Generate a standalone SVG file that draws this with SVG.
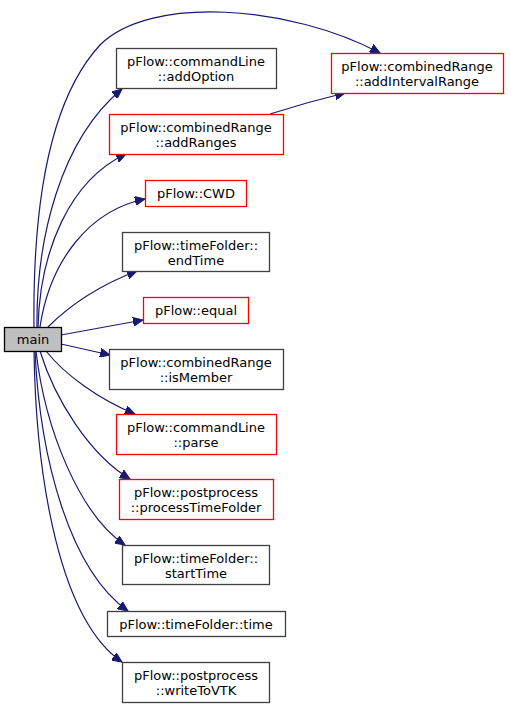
<svg xmlns="http://www.w3.org/2000/svg" width="511" height="708" viewBox="0 0 511 708">
<defs>
<style>
rect.b{fill:#fff;stroke:#404040;stroke-width:1.3}
rect.r{fill:#fff;stroke:#ff0000;stroke-width:1.3}
rect.m{fill:#bfbfbf;stroke:#000;stroke-width:1.3}
text{font-family:"DejaVu Sans",sans-serif;font-size:13px;text-anchor:middle;fill:#000}
.e path{fill:none;stroke:#191970;stroke-width:1.2}
</style>
<marker id="a" markerWidth="11" markerHeight="9" refX="10" refY="4.5" orient="auto" markerUnits="userSpaceOnUse">
<path d="M0,0 L10,4.5 L0,9 Z" fill="#191970" stroke="#191970"/>
</marker>
</defs>
<rect width="511" height="708" fill="#fff"/>
<g id="edges" class="e">
<path d="M34,327 C33,240 40,110 100,45 C150,-5 290,5 380,53" marker-end="url(#a)"/>
<path d="M37,327 C36,240 60,140 122,89" marker-end="url(#a)"/>
<path d="M38,327 C40,250 70,180 126,154" marker-end="url(#a)"/>
<path d="M40,327 C50,260 90,210 145,199" marker-end="url(#a)"/>
<path d="M48,327 C70,305 100,285 137,271" marker-end="url(#a)"/>
<path d="M61,335 L143,320" marker-end="url(#a)"/>
<path d="M61,344 L110,355" marker-end="url(#a)"/>
<path d="M46,351 C65,375 100,400 135,414" marker-end="url(#a)"/>
<path d="M40,351 C55,400 90,455 130,479" marker-end="url(#a)"/>
<path d="M36,351 C45,430 80,515 125,545" marker-end="url(#a)"/>
<path d="M35,351 C40,460 70,570 128,611" marker-end="url(#a)"/>
<path d="M34,351 C36,480 60,620 122,662" marker-end="url(#a)"/>
<path d="M270,114 C295,106 320,99 345,93" marker-end="url(#a)"/>
</g>
<g id="main"><rect class="m" x="4.5" y="327.5" width="57" height="24"/><text x="33" y="344">main</text></g>
<g id="addOption"><rect class="b" x="116.5" y="48.5" width="160" height="40"/><text x="196" y="65.5">pFlow::commandLine</text><text x="196" y="80.5">::addOption</text></g>
<g id="addRanges"><rect class="r" x="109.5" y="114.5" width="174" height="40"/><text x="196" y="131.5">pFlow::combinedRange</text><text x="196" y="146.5">::addRanges</text></g>
<g id="addIntervalRange"><rect class="r" x="331.5" y="53.5" width="172" height="40"/><text x="417" y="70.5">pFlow::combinedRange</text><text x="417" y="85.5">::addIntervalRange</text></g>
<g id="CWD"><rect class="r" x="145.5" y="180.5" width="101" height="26"/><text x="196" y="198">pFlow::CWD</text></g>
<g id="endTime"><rect class="b" x="122.5" y="232.5" width="147" height="39"/><text x="196" y="249.5">pFlow::timeFolder::</text><text x="196" y="264.5">endTime</text></g>
<g id="equal"><rect class="r" x="143.5" y="297.5" width="105" height="26"/><text x="196" y="315">pFlow::equal</text></g>
<g id="isMember"><rect class="b" x="109.5" y="349.5" width="174" height="40"/><text x="196" y="366.5">pFlow::combinedRange</text><text x="196" y="381.5">::isMember</text></g>
<g id="parse"><rect class="r" x="116.5" y="414.5" width="160" height="40"/><text x="196" y="431.5">pFlow::commandLine</text><text x="196" y="446.5">::parse</text></g>
<g id="processTimeFolder"><rect class="r" x="119.5" y="479.5" width="154" height="40"/><text x="196" y="496.5">pFlow::postprocess</text><text x="196" y="511.5">::processTimeFolder</text></g>
<g id="startTime"><rect class="b" x="122.5" y="545.5" width="147" height="39"/><text x="196" y="562.5">pFlow::timeFolder::</text><text x="196" y="577.5">startTime</text></g>
<g id="time"><rect class="b" x="107.5" y="611.5" width="178" height="25"/><text x="196" y="628.5">pFlow::timeFolder::time</text></g>
<g id="writeToVTK"><rect class="b" x="122.5" y="662.5" width="147" height="40"/><text x="196" y="679.5">pFlow::postprocess</text><text x="196" y="694.5">::writeToVTK</text></g>
</svg>
